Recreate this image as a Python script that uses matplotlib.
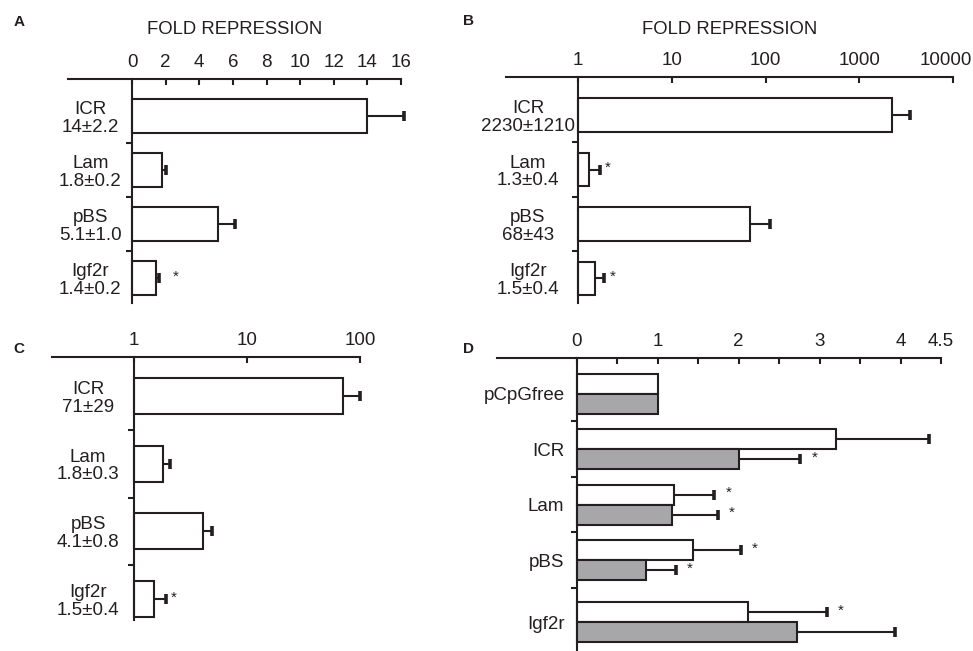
import numpy as np
import matplotlib
matplotlib.use("Agg")
import matplotlib.pyplot as plt
from matplotlib.ticker import NullFormatter, FixedLocator

plt.rcParams['font.family'] = ['Liberation Sans', 'DejaVu Sans']

# panel A - linear scale
a_names = ["ICR", "Lam", "pBS", "Igf2r"]
a_vals = [14, 1.8, 5.1, 1.4]
a_errs = [2.2, 0.2, 1.0, 0.2]
a_star = [False, False, False, True]

# panel B - log scale
b_names = ["ICR", "Lam", "pBS", "Igf2r"]
b_vals = [2230, 1.3, 68, 1.5]
b_errs = [1210, 0.4, 43, 0.4]
b_star = [False, True, False, True]

# panel C - log scale
c_names = ["ICR", "Lam", "pBS", "Igf2r"]
c_vals = [71, 1.8, 4.1, 1.5]
c_errs = [29, 0.3, 0.8, 0.4]
c_star = [False, False, False, True]

# panel D - two series
d_names = ["pCpGfree", "ICR", "Lam", "pBS", "Igf2r"]
d_white = [1.0, 3.2, 1.2, 1.43, 2.12]
d_white_err = [0, 1.15, 0.5, 0.6, 0.97]
d_white_star = [False, False, True, True, True]
d_gray = [1.0, 2.0, 1.17, 0.85, 2.72]
d_gray_err = [0, 0.76, 0.57, 0.37, 1.21]
d_gray_star = [False, True, True, True, False]

INK = "#231f20"
GRAY = "#a7a7aa"
LW = 1.5
FS = 13.5

W, H = 973, 651
fig = plt.figure(figsize=(W / 100, H / 100), dpi=100)


def px_axes(x0, x1, y0, y1):
    return fig.add_axes([x0 / W, 1 - y1 / H, (x1 - x0) / W, (y1 - y0) / H])


def errs_right(ax, vals, y, errs, stars, star_dx):
    # one-sided error bars with a cap only at the far end
    vals = np.asarray(vals, dtype=float)
    errs = np.asarray(errs, dtype=float)
    y = np.asarray(y, dtype=float)
    sel = errs > 0
    ax.hlines(y[sel], vals[sel], vals[sel] + errs[sel], color=INK, linewidth=LW,
              zorder=3, clip_on=False)
    ax.plot(vals[sel] + errs[sel], y[sel], ls='none', marker='|', markersize=6.5,
            markeredgewidth=2.6, color=INK, zorder=3, clip_on=False)
    for yi, v, e, s in zip(y, vals, errs, stars):
        if s:
            ax.annotate("*", (v + e, yi), xytext=(star_dx, 1), textcoords='offset points',
                        ha='left', va='center', fontsize=11, color=INK)


def style(ax, origin, pad, ha='center'):
    for s in ["right", "bottom"]:
        ax.spines[s].set_visible(False)
    for s in ["top", "left"]:
        ax.spines[s].set_linewidth(LW)
        ax.spines[s].set_color(INK)
    ax.spines['left'].set_position(('data', origin))
    ax.xaxis.tick_top()
    ax.tick_params(axis='x', which='major', direction='in', length=4, width=LW,
                   colors=INK, labelsize=FS, pad=6)
    ax.tick_params(axis='y', which='major', length=0, labelsize=FS, pad=pad, colors=INK)
    ax.tick_params(axis='y', which='minor', direction='out', length=4, width=LW, colors=INK)
    for lab in ax.get_yticklabels():
        lab.set_ha(ha)
        lab.set_multialignment('center')
        lab.set_linespacing(1.05)


def simple_panel(ax, names, vals, errs, stars, origin, height, star_dx):
    y = np.arange(len(names))
    vals = np.array(vals, dtype=float)
    ax.barh(y, vals - origin, left=origin, height=height, color="white",
            edgecolor=INK, linewidth=LW, zorder=2)
    errs_right(ax, vals, y, errs, stars, star_dx)
    ax.set_yticks(y)
    ax.set_yticks(y[:-1] + 0.5, minor=True)


# ---- A ----
axA = px_axes(68, 401, 79, 303)
labelsA = [f"{n}\n{v}±{e}" for n, v, e in zip(a_names, a_vals, a_errs)]
simple_panel(axA, a_names, a_vals, a_errs, a_star, 0, 0.63, 10)
axA.set_xlim(-3.81, 16)
axA.set_ylim(3.46, -0.685)
axA.set_xticks(np.arange(0, 17, 2))
axA.set_yticklabels(labelsA)
style(axA, 0, 30)
axA.tick_params(axis='x', which='minor', length=0)
axA.set_xlabel("FOLD REPRESSION", fontsize=13.3, labelpad=14, color=INK)
axA.xaxis.set_label_position('top')

# ---- B ----
axB = px_axes(506, 953, 77, 303)
labelsB = [f"{n}\n{v}±{e}" for n, v, e in zip(b_names, b_vals, b_errs)]
simple_panel(axB, b_names, b_vals, b_errs, b_star, 1, 0.62, 4)
axB.set_xscale('log')
axB.set_xlim(0.1706, 10000)
axB.set_ylim(3.45, -0.7)
axB.xaxis.set_major_locator(FixedLocator([1, 10, 100, 1000, 10000]))
axB.set_xticklabels(["1", "10", "100", "1000", ""])
axB.xaxis.set_minor_formatter(NullFormatter())
axB.set_yticklabels(labelsB)
style(axB, 1, 36)
axB.tick_params(axis='x', which='minor', length=0)
axB.annotate("10000", (10000, 1), xycoords=('data', 'axes fraction'),
             xytext=(-5, 6), textcoords='offset points', ha='center', va='bottom',
             fontsize=FS, color=INK)
axB.set_xlabel("FOLD REPRESSION", fontsize=13.3, labelpad=13, color=INK)
axB.xaxis.set_label_position('top')

# ---- C ----
axC = px_axes(52, 360, 357, 620)
labelsC = [f"{n}\n{v}±{e}" for n, v, e in zip(c_names, c_vals, c_errs)]
simple_panel(axC, c_names, c_vals, c_errs, c_star, 1, 0.53, 4)
axC.set_xscale('log')
axC.set_xlim(0.188, 100)
axC.set_ylim(3.31, -0.576)
axC.xaxis.set_major_locator(FixedLocator([1, 10, 100]))
axC.set_xticklabels(["1", "10", "100"])
axC.xaxis.set_minor_formatter(NullFormatter())
axC.set_yticklabels(labelsC)
style(axC, 1, 33)
axC.tick_params(axis='x', which='minor', length=0)

# ---- D ----
axD = px_axes(497, 941, 358, 650)
yD = np.array([0, 1, 2, 3, 4.12])
h = 0.36
axD.barh(yD - h / 2, d_white, height=h, color="white", edgecolor=INK, linewidth=LW, zorder=2)
axD.barh(yD + h / 2, d_gray, height=h, color=GRAY, edgecolor=INK, linewidth=LW, zorder=2)
errs_right(axD, d_white, yD - h / 2, d_white_err, d_white_star, 8)
errs_right(axD, d_gray, yD + h / 2, d_gray_err, d_gray_star, 8)
axD.set_xlim(-0.988, 4.5)
axD.set_ylim(4.62, -0.64)
axD.set_xticks([0, 1, 2, 3, 4, 4.5])
axD.set_xticklabels(["0", "1", "2", "3", "4", "4.5"])
axD.set_xticks([0.5, 1.5, 2.5, 3.5], minor=True)
axD.set_yticks(yD)
axD.set_yticklabels(d_names)
axD.set_yticks([0.5, 1.5, 2.5, 3.5], minor=True)
style(axD, 0, 9, ha='right')
axD.tick_params(axis='x', which='minor', direction='in', length=4, width=LW, colors=INK)

# panel letters
for letter, x, y in [("A", 19, 22), ("B", 468, 21), ("C", 19, 349), ("D", 468, 349)]:
    fig.text(x / W, 1 - y / H, letter, fontsize=11, fontweight='bold',
             ha='center', va='center', color=INK)

fig.savefig("out.png", dpi=100)
